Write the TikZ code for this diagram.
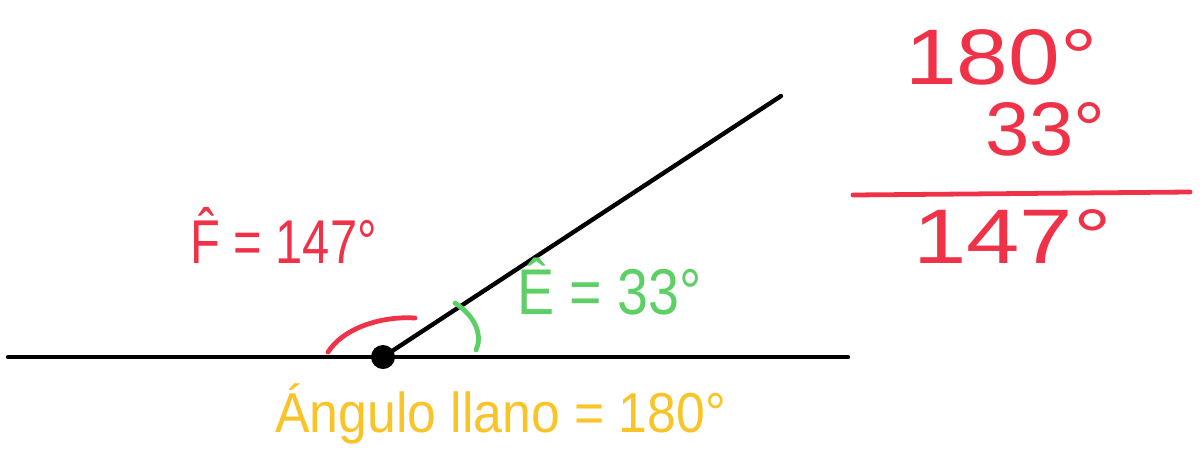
\documentclass[tikz,border=0pt]{standalone}
\usepackage{fontspec}
\setmainfont{Liberation Sans}
\usepackage{graphicx}
\usetikzlibrary{positioning}
\definecolor{penred}{RGB}{240,50,72}
\definecolor{pengreen}{RGB}{92,208,100}
\definecolor{penyellow}{RGB}{248,196,40}
\tikzstyle{stroke} = [line width=3.1pt, line cap=round, black]
\tikzstyle{anglemark} = [line width=3.4pt, line cap=round]
\tikzstyle{handtext} = [inner sep=0pt, anchor=base west]
\newcommand{\hand}[2]{\scalebox{#1}[1]{#2}}

\begin{document}
\begin{tikzpicture}[x=0.025cm, y=-0.025cm]
  \useasboundingbox (0,0) rectangle (1202,455);
  % the straight angle and the ray
  \coordinate (left) at (8,357);
  \coordinate (right) at (848,357);
  \coordinate (vertex) at (383,357);
  \coordinate (rayend) at (781,96);
  \draw [stroke] (left) -- (right);
  \draw [stroke] (vertex) -- (rayend);
  \fill (vertex) circle (12);
  % angle marks
  \coordinate (fstart) at (328,352);
  \coordinate (fend) at (415,318);
  \draw [anglemark, penred] (fstart) .. controls (345,326) and (385,316) .. (fend);
  \coordinate (estart) at (455,303);
  \coordinate (eend) at (476,350);
  \draw [anglemark, pengreen] (estart) .. controls (478,318) and (482,338) .. (eend);
  % labels
  \node (flabel) [handtext, text=penred] at (190,263) {\fontsize{44}{48}\selectfont\hand{0.79}{\^{F} = 147°}};
  \node (elabel) [handtext, text=pengreen] at (517,314) {\fontsize{46}{50}\selectfont\hand{0.86}{Ê = 33°}};
  \node (llano) [handtext, text=penyellow] at (275,432) {\fontsize{40}{44}\selectfont\hand{0.92}{Ángulo llano = 180°}};
  % subtraction
  \node (total) [handtext, text=penred] at (905,84) {\fontsize{56}{60}\selectfont\hand{1.18}{180°}};
  \node (minus) [handtext, text=penred] at (985,155) {\fontsize{54}{58}\selectfont\hand{1.05}{33°}};
  \coordinate (barleft) at (853,195);
  \coordinate (barright) at (1190,192);
  \draw [anglemark, penred] (barleft) -- (barright);
  \node (result) [handtext, text=penred] at (913,263) {\fontsize{55}{60}\selectfont\hand{1.24}{147°}};
\end{tikzpicture}
\end{document}
